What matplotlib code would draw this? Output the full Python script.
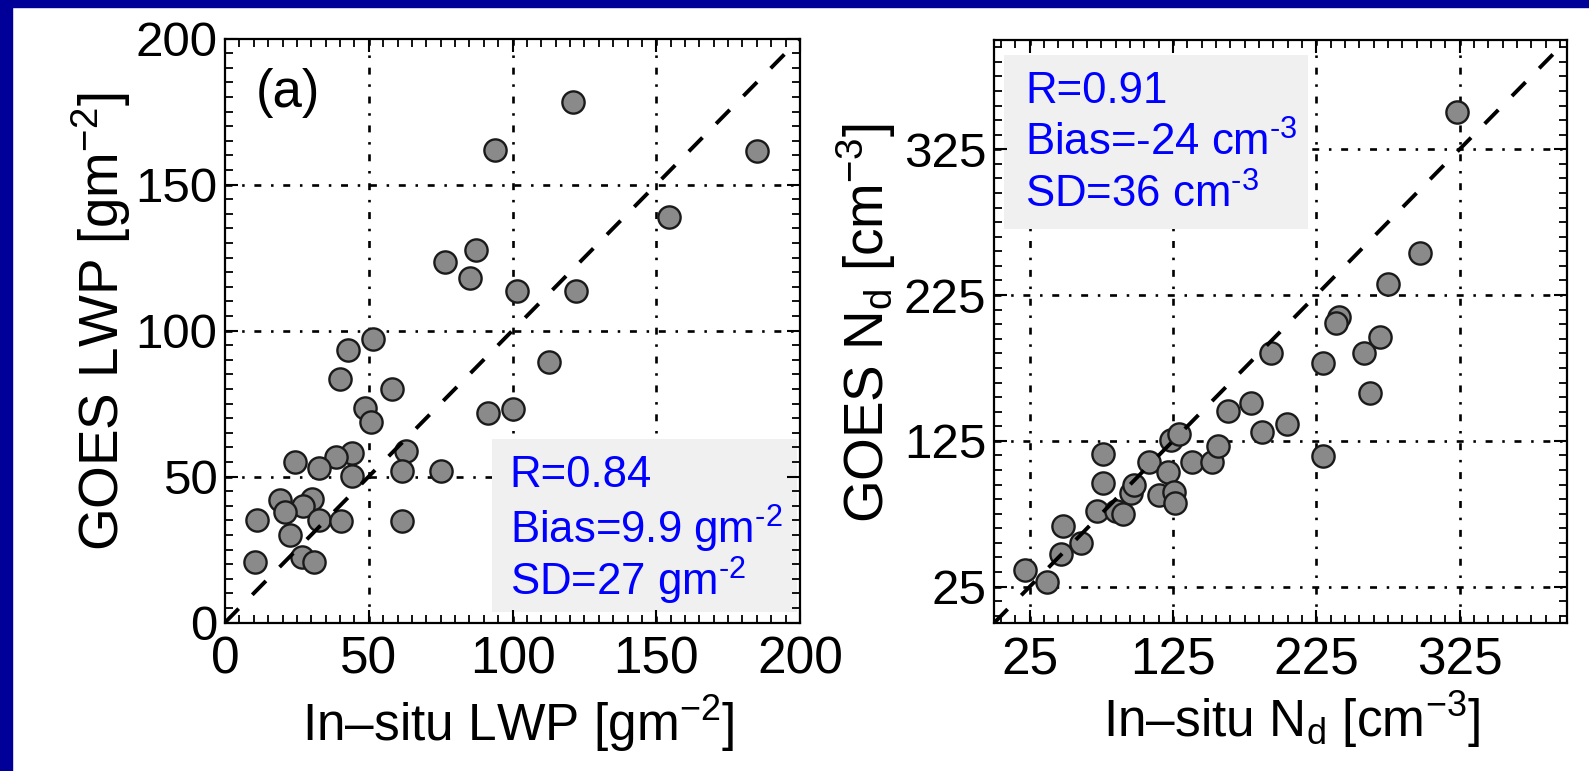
import numpy as np
import matplotlib
matplotlib.use("Agg")
import matplotlib.pyplot as plt
from matplotlib.patches import Rectangle
from matplotlib.ticker import MultipleLocator, FixedLocator

plt.rcParams['font.family'] = ['Liberation Sans', 'DejaVu Sans']
plt.rcParams['mathtext.fontset'] = 'custom'
plt.rcParams['mathtext.rm'] = 'Liberation Sans'
plt.rcParams['mathtext.it'] = 'Liberation Sans:italic'
plt.rcParams['mathtext.default'] = 'regular'
plt.rcParams['lines.scale_dashes'] = False

# in-situ vs GOES liquid water path [g m-2]
lwp_insitu = [51.5, 42.7, 40.0, 58.1, 112.8, 48.8, 50.8, 91.6, 100.0, 63.1,
              44.2, 38.7, 24.5, 32.8, 44.2, 61.6, 75.0, 19.2, 30.2, 27.0,
              20.9, 32.6, 40.5, 11.3, 61.6, 22.7, 10.4, 26.7, 31.1,
              121.1, 93.9, 184.9, 154.4, 87.2, 76.5, 85.1, 101.7, 122.1]
lwp_goes = [97.2, 93.4, 83.5, 79.8, 89.2, 73.3, 68.7, 71.6, 73.0, 58.7,
            58.2, 56.8, 54.8, 52.8, 50.2, 51.9, 51.9, 41.8, 42.4, 40.0,
            37.8, 35.2, 34.6, 35.0, 34.9, 29.8, 20.8, 22.5, 20.8,
            178.2, 161.9, 161.4, 138.9, 127.5, 123.5, 118.0, 113.6, 113.4]

# in-situ vs GOES droplet number concentration [cm-3]
nd_insitu = [21.5, 37.3, 46.6, 60.9, 48.2, 72.0, 85.2, 90.3, 76.0, 76.0,
             95.7, 98.0, 108.4, 114.9, 121.8, 125.8, 126.5, 123.5, 129.3, 138.5,
             152.4, 156.4, 163.5, 179.5, 187.1, 204.5, 193.4, 230.0, 230.0,
             323.4, 297.6, 275.2, 241.1, 238.8, 269.8, 258.3, 262.5]
nd_goes = [36.4, 28.4, 47.4, 55.1, 66.6, 76.9, 76.9, 74.6, 96.3, 115.8,
           89.0, 94.7, 110.7, 87.9, 103.4, 90.1, 82.6, 125.6, 129.5, 110.3,
           110.3, 121.7, 145.5, 150.8, 131.3, 136.4, 185.5, 178.2, 114.6,
           350.8, 254.0, 232.6, 210.2, 205.6, 196.4, 185.0, 158.0]

lwp_ticks = [0, 50, 100, 150, 200]
nd_ticks = [25, 125, 225, 325]
HY = '\u2010'  # plain hyphen for the small superscripts in the stats boxes
lwp_stats = ['R=0.84', 'Bias=9.9 gm$^{' + HY + '2}$', 'SD=27 gm$^{' + HY + '2}$']
nd_stats = ['R=0.91', 'Bias=-24 cm$^{' + HY + '3}$', 'SD=36 cm$^{' + HY + '3}$']

W, H = 1589, 771
fig = plt.figure(figsize=(W / 100, H / 100), dpi=100)
fig.patch.set_facecolor('white')
navy = '#000099'
fig.patches.append(Rectangle((0, 0), 12 / W, 1, transform=fig.transFigure,
                             color=navy, zorder=0))
fig.patches.append(Rectangle((0, 1 - 7 / H), 1, 7 / H, transform=fig.transFigure,
                             color=navy, zorder=0))

ax1 = fig.add_axes([225 / W, (H - 622.5) / H, 575 / W, 584 / H])
ax2 = fig.add_axes([994 / W, (H - 623) / H, 573 / W, 583 / H])

grid_ls = (0, (5, 7, 1.8, 7))


def style_axes(ax, lim, ticks, minor):
    ax.set_xlim(lim)
    ax.set_ylim(lim)
    ax.xaxis.set_major_locator(FixedLocator(ticks))
    ax.yaxis.set_major_locator(FixedLocator(ticks))
    ax.xaxis.set_minor_locator(MultipleLocator(minor, offset=ticks[0] % minor))
    ax.yaxis.set_minor_locator(MultipleLocator(minor, offset=ticks[0] % minor))
    ax.tick_params(which='both', direction='in', top=True, right=True,
                   colors='black')
    ax.tick_params(axis='x', labelsize=37, pad=9.5)
    ax.tick_params(axis='y', labelsize=35.5, pad=5.5)
    ax.tick_params(which='major', length=9.5, width=1.5)
    ax.tick_params(which='minor', length=5.5, width=1.3)
    for s in ax.spines.values():
        s.set_linewidth(1.6)
    # dash-dot grid drawn under the stats box
    for t in ticks:
        if lim[0] < t < lim[1]:
            ax.axvline(t, color='black', lw=1.9, ls=grid_ls, zorder=0.8)
            ax.axhline(t, color='black', lw=1.9, ls=grid_ls, zorder=0.8)


def stats_box(ax, box, tx, ty, lines):
    ax.add_patch(Rectangle((box[0], box[1]), box[2] - box[0], box[3] - box[1],
                           transform=ax.transAxes, facecolor='#f0f0f0',
                           edgecolor='none', zorder=1))
    for yy, s in zip(ty, lines):
        ax.text(tx, yy, s, transform=ax.transAxes, color='#0000ff',
                fontsize=31.5, ha='left', va='center', zorder=4)


# left panel: LWP
style_axes(ax1, (0, 200), lwp_ticks, 5)
ax1.plot(lwp_insitu, lwp_goes, 'o', ms=16, mfc='#8a8a8a', mec='#1a1a1a',
         mew=1.7, zorder=3)
ax1.plot([0, 200], [0, 200], color='black', lw=2.8, ls=(0, (14, 14)), zorder=3.5)
stats_box(ax1, (0.464, 0.0185, 0.994, 0.315), 0.495, [0.252, 0.161, 0.071], lwp_stats)
ax1.text(0.11, 0.906, '(a)', transform=ax1.transAxes, fontsize=38,
         ha='center', va='center')
ax1.set_xlabel('In\u2013situ LWP [gm$^{-2}$]', fontsize=37)
ax1.set_ylabel('GOES LWP [gm$^{-2}$]', fontsize=39.5)
ax1.xaxis.set_label_coords(0.51, -0.121)
ax1.yaxis.set_label_coords(-0.16, 0.515)

# right panel: droplet number
style_axes(ax2, (0, 400), nd_ticks, 10)
ax2.plot(nd_insitu, nd_goes, 'o', ms=16, mfc='#8a8a8a', mec='#1a1a1a',
         mew=1.7, zorder=3)
ax2.plot([0, 400], [0, 400], color='black', lw=2.8, ls=(0, (14, 14)), zorder=3.5)
stats_box(ax2, (0.0175, 0.676, 0.548, 0.974), 0.054, [0.911, 0.823, 0.734], nd_stats)
ax2.set_xlabel('In\u2013situ N$_d$ [cm$^{-3}$]', fontsize=37)
ax2.set_ylabel('GOES N$_d$ [cm$^{-3}$]', fontsize=39.5)
ax2.xaxis.set_label_coords(0.52, -0.113)
ax2.yaxis.set_label_coords(-0.168, 0.514)

fig.savefig('out.png', dpi=100, facecolor='white')
